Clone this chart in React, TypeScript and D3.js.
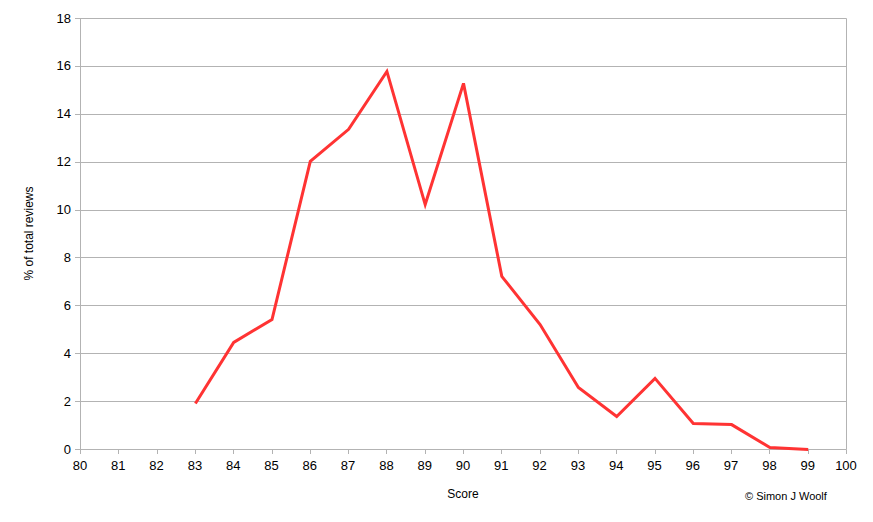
import { useEffect, useRef } from 'react';
import * as d3 from 'd3';

const scores = [83, 84, 85, 86, 87, 88, 89, 90, 91, 92, 93, 94, 95, 96, 97, 98, 99];
const percents = [1.92, 4.47, 5.43, 12.03, 13.37, 15.79, 10.23, 15.29, 7.23, 5.22, 2.59, 1.38, 2.97, 1.09, 1.04, 0.08, 0.0];
const xTicks = d3.range(80, 101, 1);
const yTicks = d3.range(0, 19, 2);

const App = () => {
  const svgRef = useRef<SVGSVGElement>(null);

  useEffect(() => {
    if (!svgRef.current) return;
    const svg = d3.select(svgRef.current);
    svg.selectAll('*').remove();

    const width = 873;
    const height = 522;
    const left = 80;
    const right = 846;
    const top = 18;
    const bottom = 449;
    const font = '"Liberation Sans", Arial, sans-serif';
    const gridColor = '#b3b3b3';

    svg.attr('width', width).attr('height', height);

    const x = d3.scaleLinear().domain([80, 100]).range([left, right]);
    const y = d3.scaleLinear().domain([0, 18]).range([bottom, top]);

    // 가로 격자선
    yTicks.forEach(t => {
      const py = Math.round(y(t)) + 0.5;
      svg.append('line')
        .attr('x1', left - 5)
        .attr('x2', right + 0.5)
        .attr('y1', py)
        .attr('y2', py)
        .attr('stroke', gridColor)
        .attr('stroke-width', 1);

      svg.append('text')
        .attr('x', left - 9)
        .attr('y', y(t))
        .attr('text-anchor', 'end')
        .attr('dominant-baseline', 'central')
        .attr('font-family', font)
        .attr('font-size', '13px')
        .attr('fill', '#000')
        .text(t.toString());
    });

    // 좌우 테두리
    [left, right].forEach(px => {
      svg.append('line')
        .attr('x1', px + 0.5).attr('x2', px + 0.5)
        .attr('y1', top + 0.5).attr('y2', bottom + 0.5)
        .attr('stroke', gridColor)
        .attr('stroke-width', 1);
    });

    // x 눈금
    xTicks.forEach(t => {
      const px = Math.round(x(t)) + 0.5;
      svg.append('line')
        .attr('x1', px).attr('x2', px)
        .attr('y1', bottom + 0.5).attr('y2', bottom + 5)
        .attr('stroke', gridColor)
        .attr('stroke-width', 1);

      svg.append('text')
        .attr('x', x(t))
        .attr('y', bottom + 21)
        .attr('text-anchor', 'middle')
        .attr('font-family', font)
        .attr('font-size', '13px')
        .attr('fill', '#000')
        .text(t.toString());
    });

    // 데이터 선
    const line = d3.line<number>()
      .x((_, i) => x(scores[i]) + 0.5)
      .y(d => y(d) + 0.5);

    svg.append('path')
      .datum(percents)
      .attr('d', line)
      .attr('fill', 'none')
      .attr('stroke', '#ff3333')
      .attr('stroke-width', 3)
      .attr('stroke-linejoin', 'miter');

    // 축 제목
    svg.append('text')
      .attr('x', (left + right) / 2)
      .attr('y', 498)
      .attr('text-anchor', 'middle')
      .attr('font-family', font)
      .attr('font-size', '12px')
      .text('Score');

    svg.append('text')
      .attr('transform', `translate(33, ${(top + bottom) / 2}) rotate(-90)`)
      .attr('text-anchor', 'middle')
      .attr('font-family', font)
      .attr('font-size', '12px')
      .text('% of total reviews');

    svg.append('text')
      .attr('x', 745)
      .attr('y', 500)
      .attr('font-family', font)
      .attr('font-size', '11px')
      .text('© Simon J Woolf');
  }, []);

  return <svg ref={svgRef} style={{ position: 'absolute', left: 0, top: 0 }} />;
};

export default App;
